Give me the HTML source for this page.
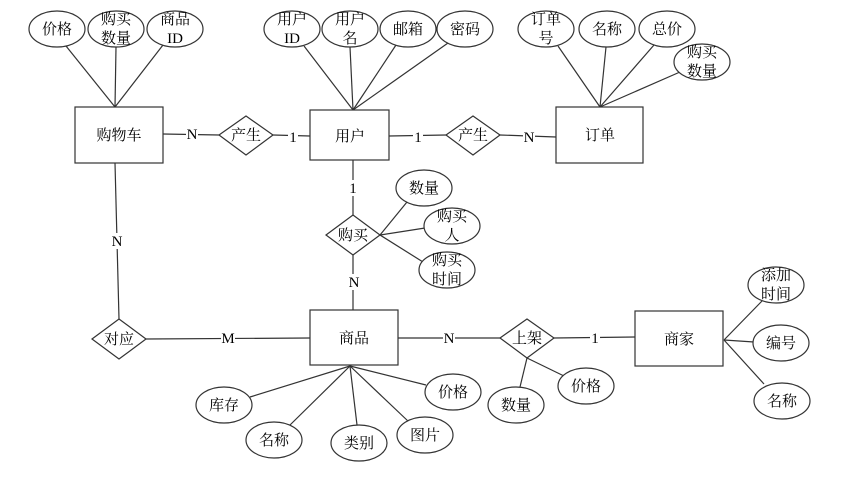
<!DOCTYPE html>
<html><head><meta charset="utf-8"><style>
html,body{margin:0;padding:0;background:#fff;width:848px;height:478px;overflow:hidden}
svg text{font-family:"Liberation Serif","Noto Serif CJK SC","Noto Sans CJK SC",serif;font-size:15px;fill:#000}
</style></head><body>
<svg width="848" height="478" viewBox="0 0 848 478" xmlns="http://www.w3.org/2000/svg">
<g stroke="#333" stroke-width="1.2" fill="none">
<!-- cart attrs -->
<line x1="66" y1="46" x2="115" y2="107"/><line x1="116" y1="47" x2="115" y2="107"/><line x1="163" y1="45" x2="115" y2="107"/>
<!-- user attrs -->
<line x1="304" y1="46" x2="353" y2="110"/><line x1="350" y1="47" x2="353" y2="110"/><line x1="396" y1="45" x2="353" y2="110"/><line x1="448" y1="43" x2="353" y2="110"/>
<!-- order attrs -->
<line x1="558" y1="46" x2="600" y2="107"/><line x1="606" y1="47" x2="600" y2="107"/><line x1="654" y1="45" x2="600" y2="107"/><line x1="680" y1="72" x2="600" y2="107"/>
<!-- relations -->
<line x1="163" y1="134" x2="219" y2="135"/><line x1="273" y1="135" x2="310" y2="136"/>
<line x1="389" y1="136" x2="446" y2="135"/><line x1="500" y1="135" x2="556" y2="137"/>
<line x1="353" y1="160" x2="353" y2="215"/><line x1="353" y1="255" x2="353" y2="310"/>
<line x1="380" y1="235" x2="407" y2="202"/><line x1="380" y1="235" x2="425" y2="228"/><line x1="380" y1="235" x2="423" y2="262"/>
<line x1="115" y1="163" x2="119" y2="319"/>
<line x1="146" y1="339" x2="310" y2="338"/>
<line x1="398" y1="338" x2="500" y2="338"/><line x1="554" y1="338" x2="635" y2="337"/>
<line x1="527" y1="358" x2="520" y2="387"/><line x1="527" y1="358" x2="564" y2="376"/>
<!-- goods attrs -->
<line x1="350" y1="366" x2="250" y2="397"/><line x1="350" y1="366" x2="290" y2="425"/><line x1="350" y1="366" x2="357" y2="425"/><line x1="350" y1="366" x2="409" y2="422"/><line x1="350" y1="366" x2="426" y2="385"/>
<!-- merchant attrs -->
<line x1="724" y1="340" x2="762" y2="301"/><line x1="724" y1="340" x2="754" y2="342"/><line x1="724" y1="340" x2="764" y2="384"/>
</g>
<g stroke="#333" stroke-width="1.2" fill="#fff">
<rect x="75" y="107" width="88" height="56"/>
<rect x="310" y="110" width="79" height="50"/>
<rect x="556" y="107" width="87" height="56"/>
<rect x="310" y="310" width="88" height="55"/>
<rect x="635" y="311" width="88" height="55"/>
<polygon points="219,135 246,116 273,135 246,155"/>
<polygon points="446,135 473,116 500,135 473,155"/>
<polygon points="326,235 353,215 380,235 353,255"/>
<polygon points="92,339 119,319 146,339 119,359"/>
<polygon points="500,338 527,319 554,338 527,358"/>
<ellipse cx="57" cy="29" rx="28" ry="18"/><ellipse cx="116" cy="29" rx="28" ry="18"/><ellipse cx="175" cy="29" rx="28" ry="18"/>
<ellipse cx="292" cy="29" rx="28" ry="18"/><ellipse cx="350" cy="29" rx="28" ry="18"/><ellipse cx="408" cy="29" rx="28" ry="18"/><ellipse cx="465" cy="29" rx="28" ry="18"/>
<ellipse cx="546" cy="29" rx="28" ry="18"/><ellipse cx="607" cy="29" rx="28" ry="18"/><ellipse cx="667" cy="29" rx="28" ry="18"/><ellipse cx="702" cy="62" rx="28" ry="18"/>
<ellipse cx="424" cy="188" rx="28" ry="18"/><ellipse cx="452" cy="226" rx="28" ry="18"/><ellipse cx="447" cy="270" rx="28" ry="18"/>
<ellipse cx="224" cy="405" rx="28" ry="18"/><ellipse cx="274" cy="440" rx="28" ry="18"/><ellipse cx="359" cy="443" rx="28" ry="18"/><ellipse cx="425" cy="435" rx="28" ry="18"/><ellipse cx="453" cy="392" rx="28" ry="18"/>
<ellipse cx="516" cy="405" rx="28" ry="18"/><ellipse cx="586" cy="386" rx="28" ry="18"/>
<ellipse cx="776" cy="285" rx="28" ry="18"/><ellipse cx="781" cy="343" rx="28" ry="18"/><ellipse cx="782" cy="401" rx="28" ry="18"/>
</g>
<g text-anchor="middle">
<text x="119" y="140">购物车</text><text x="350" y="141">用户</text><text x="600" y="140">订单</text>
<text x="354" y="343">商品</text><text x="679" y="344">商家</text>
<text x="246" y="140">产生</text><text x="473" y="140">产生</text><text x="353" y="240">购买</text><text x="119" y="344">对应</text><text x="527" y="343">上架</text>
<text x="57" y="34">价格</text><text x="116" y="24">购买</text><text x="116" y="43">数量</text><text x="175" y="24">商品</text><text x="175" y="43">ID</text>
<text x="292" y="24">用户</text><text x="292" y="43">ID</text><text x="350" y="24">用户</text><text x="350" y="43">名</text><text x="408" y="34">邮箱</text><text x="465" y="34">密码</text>
<text x="546" y="24">订单</text><text x="546" y="43">号</text><text x="607" y="34">名称</text><text x="667" y="34">总价</text><text x="702" y="57">购买</text><text x="702" y="76">数量</text>
<text x="424" y="193">数量</text><text x="452" y="221">购买</text><text x="452" y="240">人</text><text x="447" y="265">购买</text><text x="447" y="284">时间</text>
<text x="224" y="410">库存</text><text x="274" y="445">名称</text><text x="359" y="448">类别</text><text x="425" y="440">图片</text><text x="453" y="397">价格</text>
<text x="516" y="410">数量</text><text x="586" y="391">价格</text>
<text x="776" y="280">添加</text><text x="776" y="299">时间</text><text x="781" y="348">编号</text><text x="782" y="406">名称</text>
</g>
<g text-anchor="middle" font-size="14">
<rect x="186" y="126" width="12" height="16" fill="#fff"/><text x="192" y="139">N</text>
<rect x="288" y="128" width="10" height="16" fill="#fff"/><text x="293" y="142">1</text>
<rect x="413" y="128" width="10" height="16" fill="#fff"/><text x="418" y="142">1</text>
<rect x="523" y="128" width="12" height="16" fill="#fff"/><text x="529" y="142">N</text>
<rect x="348" y="180" width="10" height="16" fill="#fff"/><text x="353" y="193">1</text>
<rect x="348" y="274" width="12" height="16" fill="#fff"/><text x="354" y="287">N</text>
<rect x="111" y="233" width="12" height="16" fill="#fff"/><text x="117" y="246">N</text>
<rect x="221" y="330" width="14" height="16" fill="#fff"/><text x="228" y="343">M</text>
<rect x="443" y="330" width="12" height="16" fill="#fff"/><text x="449" y="343">N</text>
<rect x="590" y="330" width="10" height="16" fill="#fff"/><text x="595" y="343">1</text>
</g>
</svg>
</body></html>
